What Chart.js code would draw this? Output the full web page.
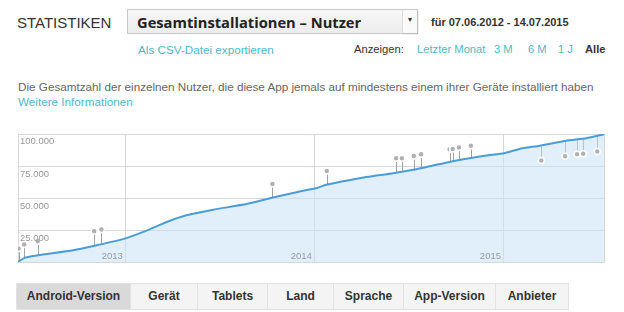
<!DOCTYPE html>
<html>
<head>
<meta charset="utf-8">
<script src="https://cdn.jsdelivr.net/npm/chart.js@4"></script>
<style>
  body { margin: 0; width: 624px; height: 312px; background: #fff; font-family: "Liberation Sans", Arial, sans-serif; position: relative; overflow: hidden; }
  .abs { position: absolute; white-space: nowrap; }
  .teal { color: #4fb8c8; }
  #title { left: 17px; top: 14px; font-size: 15px; color: #333; }
  #select { left: 127px; top: 9px; width: 291px; height: 25px; border: 1px solid #c8c8c8; background: linear-gradient(#f7f7f7, #ececec); box-sizing: border-box; }
  #select span { position: absolute; left: 9px; top: 2px; font-family: "Open Sans", sans-serif; font-weight: bold; font-size: 14.7px; color: #222; }
  #select i { position: absolute; right: 0; top: 0; width: 14px; height: 23px; border-left: 1px solid #ddd; background: #fafafa; box-shadow: 1px 1px 1px #bbb; font-style: normal; font-size: 8px; text-align: center; line-height: 20px; color: #333; }
  #range { left: 431px; top: 16px; font-size: 11px; font-weight: bold; color: #333; }
  .row2 { top: 43px; font-size: 11.2px; }
  #anz { left: 354px; color: #333; }
  #desc { left: 18px; top: 80px; font-size: 11.7px; color: #666; }
  #more { left: 18px; top: 95px; font-size: 11.7px; }
  #wrap { position: absolute; left: 10px; top: 128px; width: 600px; height: 140px; }
  #tabs { left: 16px; top: 283px; height: 27px; display: flex; border: 1px solid #e2e2e2; box-sizing: border-box; }
  #tabs div { height: 25px; line-height: 25px; text-align: center; font-size: 12px; font-weight: bold; color: #333; background: #f4f4f4; border-right: 1px solid #e2e2e2; box-sizing: border-box; }
  #tabs div.on { background: #d9d9d9; }
</style>
</head>
<body>
<div class="abs" id="title">STATISTIKEN</div>
<div class="abs" id="select"><span>Gesamtinstallationen – Nutzer</span><i>▾</i></div>
<div class="abs" id="range">für 07.06.2012 - 14.07.2015</div>
<div class="abs teal row2" style="left:138px;font-size:11.7px">Als CSV-Datei exportieren</div>
<div class="abs row2" id="anz">Anzeigen:</div>
<div class="abs teal row2" style="left:417px">Letzter Monat</div>
<div class="abs teal row2" style="left:494px">3 M</div>
<div class="abs teal row2" style="left:528px">6 M</div>
<div class="abs teal row2" style="left:558px">1 J</div>
<div class="abs row2" style="left:585px;font-weight:bold;color:#333">Alle</div>
<div class="abs" id="desc">Die Gesamtzahl der einzelnen Nutzer, die diese App jemals auf mindestens einem ihrer Geräte installiert haben</div>
<div class="abs teal" id="more">Weitere Informationen</div>
<div id="wrap"><canvas id="installChart"></canvas></div>
<div class="abs" id="tabs">
  <div class="on" style="width:114px">Android-Version</div>
  <div style="width:67px">Gerät</div>
  <div style="width:70px">Tablets</div>
  <div style="width:66px">Land</div>
  <div style="width:70px">Sprache</div>
  <div style="width:92px">App-Version</div>
  <div style="width:72px;border-right:none">Anbieter</div>
</div>
<script>
// Installed users over time
const startDate = '2012-06-07';
const endDate = '2015-07-14';
const userDates = ['2012-06-07', '2012-06-20', '2012-07-16', '2012-09-21', '2012-11-06', '2012-12-30',
  '2013-02-10', '2013-03-21', '2013-04-28', '2013-06-19', '2013-08-22', '2013-10-12', '2013-12-03',
  '2014-01-03', '2014-01-23', '2014-03-28', '2014-06-01', '2014-07-16', '2014-08-23', '2014-10-07',
  '2014-11-28', '2015-01-01', '2015-01-31', '2015-03-11', '2015-05-01', '2015-06-09', '2015-07-14'];
const userValues = [500, 3600, 5600, 9500, 13400, 18600,
  24800, 31500, 36700, 41100, 45500, 50600, 55300,
  57800, 60500, 65600, 69500, 72600, 76000, 79800,
  83200, 85000, 88400, 90900, 94800, 96700, 99800];

// Annotation pins (date, height of the dot)
const pinDates = ['2012-06-08', '2012-06-19', '2012-07-15', '2012-11-01', '2012-11-15', '2013-10-11',
  '2014-01-24', '2014-06-07', '2014-06-18', '2014-07-11', '2014-07-25', '2014-09-18', '2014-09-24',
  '2014-10-06', '2014-10-29', '2015-03-14', '2015-04-29', '2015-05-22', '2015-06-03', '2015-06-30'];
const pinValues = [10900, 14000, 16500, 24300, 25600, 61000,
  71300, 81200, 81200, 82900, 84300, 88100, 88400,
  89400, 90900, 79300, 82700, 84300, 84700, 86300];

const yearTicks = ['2013-01-01', '2014-01-01', '2015-01-01'];
const yearLabels = ['2013', '2014', '2015'];
const yTicks = [0, 25000, 50000, 75000, 100000];
const yLabels = ['', '25.000', '50.000', '75.000', '100.000'];

// days since the first day
function toDay(d) {
    return (Date.parse(d) - Date.parse(startDate)) / 86400000;
}
const lastDay = toDay(endDate);

// value of the user line at a given day (linear between read points)
function lineAt(day) {
    for (let i = 1; i < userDates.length; i++) {
        const d0 = toDay(userDates[i - 1]), d1 = toDay(userDates[i]);
        if (day <= d1) {
            return userValues[i - 1] + (userValues[i] - userValues[i - 1]) * (day - d0) / (d1 - d0);
        }
    }
    return userValues[userValues.length - 1];
}

// stems from the line to every pin dot
const pinStems = {
    id: 'pinStems',
    beforeDatasetsDraw(chart) {
        const x = chart.scales.x, y = chart.scales.y, c = chart.ctx;
        c.save();
        c.strokeStyle = '#a0a0a0';
        c.lineWidth = 1;
        pinDates.forEach((d, i) => {
            const px = Math.round(x.getPixelForValue(toDay(d))) + 0.5;
            c.beginPath();
            c.moveTo(px, y.getPixelForValue(lineAt(toDay(d))));
            c.lineTo(px, y.getPixelForValue(pinValues[i]));
            c.stroke();
        });
        c.restore();
    }
};

// axis labels sit inside the plot: years left of their line, values under theirs
const axisText = {
    id: 'axisText',
    afterDraw(chart) {
        const x = chart.scales.x, y = chart.scales.y, c = chart.ctx;
        c.save();
        c.font = '9.5px "Liberation Sans", Arial, sans-serif';
        c.fillStyle = '#999';
        c.textAlign = 'right';
        c.textBaseline = 'bottom';
        yearTicks.forEach((d, i) => {
            c.fillText(yearLabels[i], x.getPixelForValue(toDay(d)) - 3, chart.chartArea.bottom - 1);
        });
        c.textAlign = 'left';
        c.textBaseline = 'top';
        yTicks.forEach((v, i) => {
            c.fillText(yLabels[i], chart.chartArea.left + 2, y.getPixelForValue(v) + 3);
        });
        c.restore();
    }
};

new Chart(document.getElementById('installChart'), {
    type: 'line',
    data: {
        datasets: [{
            label: 'Pins',
            data: pinDates.map((d, i) => ({ x: toDay(d), y: pinValues[i] })),
            showLine: false,
            pointRadius: 3,
            pointBackgroundColor: '#b0b0b0',
            pointBorderColor: '#ffffff',
            pointBorderWidth: 1.5
        }, {
            label: 'Nutzer',
            data: userDates.map((d, i) => ({ x: toDay(d), y: userValues[i] })),
            borderColor: '#4a9dd6',
            borderWidth: 2,
            backgroundColor: 'rgba(200, 225, 245, 0.55)',
            fill: 'origin',
            pointRadius: 0,
            tension: 0.15
        }]
    },
    options: {
        responsive: true,
        maintainAspectRatio: false,
        animation: false,
        events: [],
        layout: { padding: { left: 8, right: 4, top: 6, bottom: 4 } },
        plugins: { legend: { display: false }, tooltip: { enabled: false } },
        scales: {
            x: {
                type: 'linear',
                min: 0,
                max: lastDay,
                afterBuildTicks: axis => {
                    axis.ticks = [0].concat(yearTicks.map(toDay), [lastDay]).map(v => ({ value: v }));
                },
                grid: { color: '#d8d8d8', drawTicks: false },
                border: { display: false },
                ticks: { display: false }
            },
            y: {
                min: 0,
                max: 100000,
                afterBuildTicks: axis => {
                    axis.ticks = yTicks.map(v => ({ value: v }));
                },
                grid: { color: '#d8d8d8', drawTicks: false },
                border: { display: false },
                ticks: { display: false }
            }
        }
    },
    plugins: [pinStems, axisText]
});
</script>
</body>
</html>
